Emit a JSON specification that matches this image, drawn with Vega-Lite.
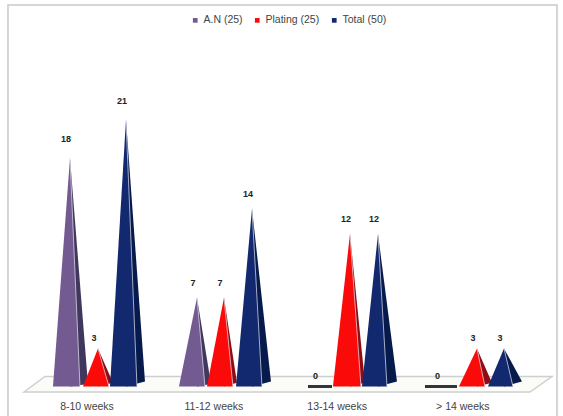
{"$schema":"https://vega.github.io/schema/vega-lite/v6.json","width":563,"height":416,"padding":0,"autosize":{"type":"none"},"background":"#ffffff","config":{"view":{"stroke":null}},
"datasets":{
"frame":[{"x":0.3715,"y":-2.32,"o":1},{"x":0.3715,"y":30.04,"o":2},{"x":4.739,"y":30.04,"o":3},{"x":4.739,"y":-2.32,"o":4}],
"floor":[{"x":0.4988,"y":-0.433,"y2":-0.433},{"x":0.6659,"y":0.787,"y2":-0.433},{"x":4.5243,"y":0.787,"y2":-0.433},{"x":4.6993,"y":0.787,"y2":0.787}],
"faces":[
{"id":"A1","series":"A.N (25)","part":"left","x":0.7295,"y":0,"y2":0},{"id":"A1","series":"A.N (25)","part":"apex","x":0.8648,"y":18,"y2":0},{"id":"A1","series":"A.N (25)","part":"right","x":0.9443,"y":0,"y2":0},{"id":"A1","series":"A.N (25)","part":"side","x":1.0079,"y":0.2,"y2":0.2},
{"id":"P1","series":"Plating (25)","part":"left","x":0.9682,"y":0,"y2":0},{"id":"P1","series":"Plating (25)","part":"apex","x":1.0875,"y":3,"y2":0},{"id":"P1","series":"Plating (25)","part":"right","x":1.175,"y":0,"y2":0},{"id":"P1","series":"Plating (25)","part":"side","x":1.2069,"y":0.3,"y2":0.3},
{"id":"T1","series":"Total (50)","part":"left","x":1.183,"y":0,"y2":0},{"id":"T1","series":"Total (50)","part":"apex","x":1.3103,"y":21,"y2":0},{"id":"T1","series":"Total (50)","part":"right","x":1.3978,"y":0,"y2":0},{"id":"T1","series":"Total (50)","part":"side","x":1.4614,"y":0.4,"y2":0.4},
{"id":"A2","series":"A.N (25)","part":"left","x":1.7319,"y":0,"y2":0},{"id":"A2","series":"A.N (25)","part":"apex","x":1.8751,"y":7,"y2":0},{"id":"A2","series":"A.N (25)","part":"right","x":1.9387,"y":0,"y2":0},{"id":"A2","series":"A.N (25)","part":"side","x":1.9865,"y":0.2,"y2":0.2},
{"id":"P2","series":"Plating (25)","part":"left","x":1.9546,"y":0,"y2":0},{"id":"P2","series":"Plating (25)","part":"apex","x":2.0899,"y":7,"y2":0},{"id":"P2","series":"Plating (25)","part":"right","x":2.1615,"y":0,"y2":0},{"id":"P2","series":"Plating (25)","part":"side","x":2.1933,"y":0.3,"y2":0.3},
{"id":"T2","series":"Total (50)","part":"left","x":2.1854,"y":0,"y2":0},{"id":"T2","series":"Total (50)","part":"apex","x":2.3126,"y":14,"y2":0},{"id":"T2","series":"Total (50)","part":"right","x":2.3922,"y":0,"y2":0},{"id":"T2","series":"Total (50)","part":"side","x":2.4638,"y":0.4,"y2":0.4},
{"id":"A3","series":"A.N (25)","part":"left","x":2.7582,"y":0,"y2":0},{"id":"A3","series":"A.N (25)","part":"right","x":2.9491,"y":0,"y2":0},
{"id":"P3","series":"Plating (25)","part":"left","x":2.957,"y":0,"y2":0},{"id":"P3","series":"Plating (25)","part":"apex","x":3.0923,"y":12,"y2":0},{"id":"P3","series":"Plating (25)","part":"right","x":3.1798,"y":0,"y2":0},{"id":"P3","series":"Plating (25)","part":"side","x":3.2116,"y":0.3,"y2":0.3},
{"id":"T3","series":"Total (50)","part":"left","x":3.1878,"y":0,"y2":0},{"id":"T3","series":"Total (50)","part":"apex","x":3.3151,"y":12,"y2":0},{"id":"T3","series":"Total (50)","part":"right","x":3.3867,"y":0,"y2":0},{"id":"T3","series":"Total (50)","part":"side","x":3.4662,"y":0.4,"y2":0.4},
{"id":"A4","series":"A.N (25)","part":"left","x":3.6889,"y":0,"y2":0},{"id":"A4","series":"A.N (25)","part":"right","x":3.9435,"y":0,"y2":0},
{"id":"P4","series":"Plating (25)","part":"left","x":3.9594,"y":0,"y2":0},{"id":"P4","series":"Plating (25)","part":"apex","x":4.1026,"y":3,"y2":0},{"id":"P4","series":"Plating (25)","part":"right","x":4.1663,"y":0,"y2":0},{"id":"P4","series":"Plating (25)","part":"side","x":4.222,"y":0.3,"y2":0.3},
{"id":"T4","series":"Total (50)","part":"left","x":4.1901,"y":0,"y2":0},{"id":"T4","series":"Total (50)","part":"apex","x":4.3174,"y":3,"y2":0},{"id":"T4","series":"Total (50)","part":"right","x":4.389,"y":0,"y2":0},{"id":"T4","series":"Total (50)","part":"side","x":4.4606,"y":0.4,"y2":0.4}
],
"bars":[
{"group":"8-10 weeks","series":"A.N (25)","x":0.8648,"value":18},{"group":"8-10 weeks","series":"Plating (25)","x":1.0875,"value":3},{"group":"8-10 weeks","series":"Total (50)","x":1.3103,"value":21},
{"group":"11-12 weeks","series":"A.N (25)","x":1.8751,"value":7},{"group":"11-12 weeks","series":"Plating (25)","x":2.0899,"value":7},{"group":"11-12 weeks","series":"Total (50)","x":2.3126,"value":14},
{"group":"13-14 weeks","series":"A.N (25)","x":2.85,"value":0},{"group":"13-14 weeks","series":"Plating (25)","x":3.0923,"value":12},{"group":"13-14 weeks","series":"Total (50)","x":3.3151,"value":12},
{"group":"> 14 weeks","series":"A.N (25)","x":3.82,"value":0},{"group":"> 14 weeks","series":"Plating (25)","x":4.1026,"value":3},{"group":"> 14 weeks","series":"Total (50)","x":4.3174,"value":3}
],
"categories":[{"x":1,"y":-1.61,"label":"8-10 weeks"},{"x":2.01,"y":-1.61,"label":"11-12 weeks"},{"x":2.99,"y":-1.61,"label":"13-14 weeks"},{"x":3.99,"y":-1.61,"label":"> 14 weeks"}]
},
"encoding":{"x":{"field":"x","type":"quantitative","scale":{"domain":[0.308,4.787],"nice":false,"zero":false},"axis":null},"y":{"field":"y","type":"quantitative","scale":{"domain":[-2.323,30.43],"nice":false,"zero":false},"axis":null}},
"layer":[
{"data":{"name":"frame"},"mark":{"type":"line","stroke":"#c9c9c9","strokeWidth":1.5},"encoding":{"order":{"field":"o"}}},
{"data":{"name":"floor"},"mark":{"type":"area","fill":"#fbfbf7","stroke":"#cfcfcf","strokeWidth":1.5},"encoding":{"y2":{"field":"y2"}}},
{"data":{"name":"faces"},"transform":[{"filter":"datum.part==='apex'||datum.part==='side'"}],"mark":{"type":"area"},"encoding":{"detail":{"field":"id"},"y2":{"field":"y2"},"fill":{"field":"series","type":"nominal","legend":null,"scale":{"domain":["A.N (25)","Plating (25)","Total (50)"],"range":["#40385c","#8f0d12","#071a4c"]}}}},
{"data":{"name":"faces"},"transform":[{"filter":"datum.part!=='side'&&datum.id!=='A3'&&datum.id!=='A4'"}],"mark":{"type":"area"},"encoding":{"detail":{"field":"id"},"y2":{"field":"y2"},"color":{"field":"series","type":"nominal","scale":{"domain":["A.N (25)","Plating (25)","Total (50)"],"range":["#735a91","#fb0a0a","#12296f"]},"legend":{"title":null,"orient":"none","legendX":190,"legendY":15,"direction":"horizontal","columns":3,"symbolType":"square","symbolSize":22,"labelFont":"Liberation Sans","labelFontSize":10.5,"labelColor":"#444444","columnPadding":9,"labelOffset":3}}}},
{"data":{"name":"faces"},"transform":[{"filter":"(datum.part==='apex'||datum.part==='right')&&datum.id!=='A3'&&datum.id!=='A4'"}],"mark":{"type":"line","stroke":"#e8e8f4","strokeWidth":1,"opacity":0.7},"encoding":{"detail":{"field":"id"}}},
{"data":{"name":"faces"},"transform":[{"filter":"datum.id==='A3'||datum.id==='A4'"}],"mark":{"type":"line","stroke":"#34343c","strokeWidth":3},"encoding":{"detail":{"field":"id"}}},
{"data":{"name":"bars"},"transform":[{"filter":"datum.value<=3"}],"mark":{"type":"text","font":"Liberation Sans","fontWeight":"bold","fontSize":9,"color":"#222222","dx":-4,"dy":-10.5,"baseline":"middle"},"encoding":{"y":{"field":"value","type":"quantitative"},"text":{"field":"value","type":"quantitative"}}},
{"data":{"name":"bars"},"transform":[{"filter":"datum.value>3&&datum.value<=14"}],"mark":{"type":"text","font":"Liberation Sans","fontWeight":"bold","fontSize":9,"color":"#222222","dx":-4,"dy":-15,"baseline":"middle"},"encoding":{"y":{"field":"value","type":"quantitative"},"text":{"field":"value","type":"quantitative"}}},
{"data":{"name":"bars"},"transform":[{"filter":"datum.value>14"}],"mark":{"type":"text","font":"Liberation Sans","fontWeight":"bold","fontSize":9,"color":"#222222","dx":-4,"dy":-19,"baseline":"middle"},"encoding":{"y":{"field":"value","type":"quantitative"},"text":{"field":"value","type":"quantitative"}}},
{"data":{"name":"categories"},"mark":{"type":"text","font":"Liberation Sans","fontSize":10.5,"color":"#444444","baseline":"middle"},"encoding":{"text":{"field":"label"}}}
],
"resolve":{"scale":{"color":"independent","fill":"independent"}}
}
